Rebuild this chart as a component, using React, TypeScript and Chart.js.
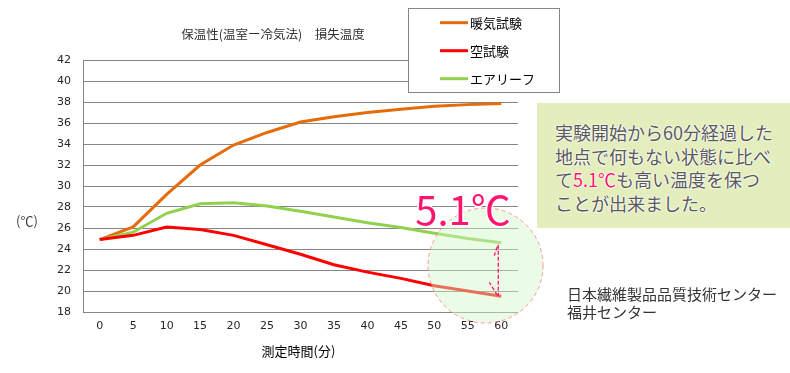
import React, { useEffect, useRef } from "react";
import { Chart, registerables } from "chart.js";

Chart.register(...registerables);

const categories = ["0", "5", "10", "15", "20", "25", "30", "35", "40", "45", "50", "55", "60"];
const warmAir = [24.9, 26.1, 29.2, 32.0, 33.9, 35.1, 36.1, 36.6, 37.0, 37.3, 37.6, 37.75, 37.85];
const blank = [24.9, 25.3, 26.1, 25.85, 25.3, 24.4, 23.5, 22.5, 21.8, 21.2, 20.5, 20.0, 19.5];
const airleaf = [24.9, 25.6, 27.4, 28.3, 28.4, 28.1, 27.6, 27.05, 26.5, 26.05, 25.5, 25.0, 24.6];
const seriesNames = ["暖気試験", "空試験", "エアリーフ"];
const seriesColors = ["#e46c0a", "#ff0000", "#92d050"];
const yMin = 18;
const yMax = 42;
const yStep = 2;
const titleText = "保温性(温室ー冷気法)　損失温度";
const xTitle = "測定時間(分)";
const yTitle = "(℃)";
const diffText = "5.1℃";
const noteLines = ["実験開始から60分経過した", "地点で何もない状態に比べ"];
const sourceLines = ["日本繊維製品品質技術センター", "福井センター"];

const JP = '"Noto Sans CJK JP", "Noto Sans", sans-serif';
const PINK = "#ff1470";

const overlayPlugin = {
  id: "overlay",
  afterDatasetsDraw(chart: any) {
    const ctx = chart.ctx;
    const x = chart.scales.x;
    const y = chart.scales.y;
    const last = categories.length - 1;
    const cx = x.getPixelForValue(last - 0.47);
    const cy = y.getPixelForValue(22.43);
    const r = 57.5;
    ctx.save();
    ctx.beginPath();
    ctx.arc(cx, cy, r, 0, Math.PI * 2);
    ctx.fillStyle = "rgba(208,246,199,0.45)";
    ctx.fill();
    ctx.setLineDash([4, 3]);
    ctx.lineWidth = 1;
    ctx.strokeStyle = "rgba(255,120,120,0.75)";
    ctx.stroke();
    const ax = x.getPixelForValue(last) - 3;
    const yTop = y.getPixelForValue(airleaf[last]);
    const yBot = y.getPixelForValue(blank[last]);
    ctx.strokeStyle = PINK;
    ctx.lineWidth = 1.3;
    ctx.setLineDash([4, 2]);
    ctx.beginPath();
    ctx.moveTo(ax, yTop + 2);
    ctx.lineTo(ax, yBot);
    ctx.moveTo(ax - 1, yTop + 4);
    ctx.lineTo(ax - 4, yTop + 13);
    ctx.moveTo(ax - 1, yBot - 1);
    ctx.lineTo(ax - 9, yBot - 14);
    ctx.stroke();
    ctx.setLineDash([]);
    ctx.font = `40px ${JP}`;
    ctx.textAlign = "left";
    ctx.textBaseline = "alphabetic";
    const tx = x.getPixelForValue(last) - 86;
    const ty = y.getPixelForValue(26.25);
    ctx.lineWidth = 3;
    ctx.strokeStyle = "#ffffff";
    ctx.strokeText(diffText, tx, ty);
    ctx.fillStyle = PINK;
    ctx.fillText(diffText, tx, ty);
    ctx.restore();
  },
  afterDraw(chart: any) {
    const ctx = chart.ctx;
    const area = chart.chartArea;
    ctx.save();
    ctx.fillStyle = "#333333";
    ctx.font = `12.5px ${JP}`;
    ctx.textAlign = "center";
    ctx.textBaseline = "middle";
    ctx.fillText(titleText, 273, 34);
    ctx.font = `13px ${JP}`;
    ctx.fillStyle = "#000000";
    ctx.fillText(xTitle, (area.left + area.right) / 2 - 2, 351);
    ctx.fillStyle = "#404040";
    ctx.fillText(yTitle, 27, 221);
    ctx.fillStyle = "#ffffff";
    ctx.fillRect(408.5, 8.5, 151, 84);
    ctx.strokeStyle = "#868686";
    ctx.lineWidth = 1;
    ctx.strokeRect(408.5, 8.5, 151, 84);
    ctx.textAlign = "left";
    ctx.font = `13px ${JP}`;
    seriesNames.forEach((name, i) => {
      const ly = 22.7 + i * 28;
      ctx.strokeStyle = seriesColors[i];
      ctx.lineWidth = 3;
      ctx.beginPath();
      ctx.moveTo(440, ly);
      ctx.lineTo(468, ly);
      ctx.stroke();
      ctx.fillStyle = "#000000";
      ctx.fillText(name, 470, ly);
    });
    ctx.restore();
  },
};

export default function App() {
  const ref = useRef<HTMLCanvasElement | null>(null);
  useEffect(() => {
    if (!ref.current) return;
    const data = [warmAir, blank, airleaf];
    const order = [1, 2, 0];
    const chart = new Chart(ref.current, {
      type: "line",
      data: {
        labels: categories,
        datasets: order.map((i) => ({
          label: seriesNames[i],
          data: data[i],
          borderColor: seriesColors[i],
          backgroundColor: seriesColors[i],
          borderWidth: 3,
          pointRadius: 0,
          tension: 0,
          fill: false,
        })),
      },
      options: {
        responsive: false,
        animation: false,
        devicePixelRatio: 1,
        layout: { padding: { left: 0, top: 60, right: 272, bottom: 0 } },
        plugins: { legend: { display: false }, title: { display: false }, tooltip: { enabled: false } },
        scales: {
          x: {
            offset: true,
            grid: { display: false, drawTicks: false },
            border: { display: false },
            ticks: { color: "#262626", font: { family: "DejaVu Sans", size: 11 }, padding: 8, maxRotation: 0, autoSkip: false },
            afterFit: (s: any) => { s.height = 61; },
          },
          y: {
            min: yMin,
            max: yMax,
            grid: { color: "#868686", drawTicks: false, lineWidth: 1 },
            border: { display: true, color: "#868686" },
            ticks: { stepSize: yStep, color: "#262626", font: { family: "DejaVu Sans", size: 11 }, padding: 12 },
            afterFit: (s: any) => { s.width = 83; },
          },
        },
      },
      plugins: [overlayPlugin],
    } as any);
    return () => chart.destroy();
  }, []);

  const halo = "0 0 2px #fff, 0 0 2px #fff, 0 0 1px #fff, 0 0 1px #fff";
  return (
    <div style={{ position: "fixed", left: 0, top: 0, width: 790, height: 373, background: "#fff", overflow: "hidden" }}>
      <canvas ref={ref} width={790} height={373} style={{ position: "absolute", left: 0, top: 0, width: 790, height: 373 }} />
      <div
        style={{
          position: "absolute", left: 537, top: 103, width: 253, height: 125, background: "#e4eebc",
          boxSizing: "border-box", padding: "18px 0 0 18px", fontFamily: JP, fontSize: 18, lineHeight: "23.5px",
          color: "#595959", textShadow: halo, whiteSpace: "nowrap",
        }}
      >
        <div>{noteLines[0]}</div>
        <div>{noteLines[1]}</div>
        <div>て<span style={{ color: PINK }}>{diffText}</span>も高い温度を保つ</div>
        <div>ことが出来ました。</div>
      </div>
      <div
        style={{
          position: "absolute", left: 567, top: 285, fontFamily: JP, fontSize: 15, lineHeight: "18px",
          color: "#333333", whiteSpace: "nowrap",
        }}
      >
        {sourceLines.map((l, i) => (<div key={i}>{l}</div>))}
      </div>
    </div>
  );
}
